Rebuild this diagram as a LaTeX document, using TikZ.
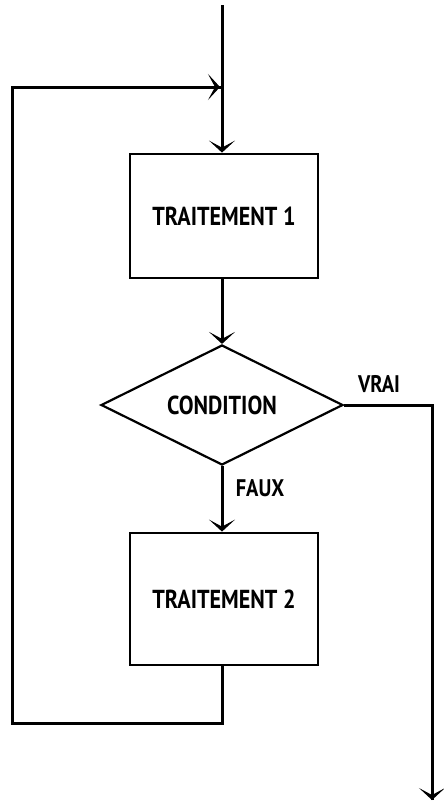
\documentclass[tikz,border=0pt]{standalone}
\usepackage{fontspec}
\usetikzlibrary{positioning, shapes.geometric, arrows.meta}
\newfontfamily\flowfont{PT Sans}[FakeStretch=0.85]
\tikzset{
	flowline/.style={line width=1.5pt},
	flowarrow/.style={flowline, -{Stealth[length=6pt, width=13pt, inset=3.5pt]}},
	procbox/.style={draw, line width=1.4pt, minimum width=94pt, minimum height=62pt, font=\flowfont\bfseries\fontsize{13}{15}\selectfont},
	testbox/.style={draw, diamond, aspect=2, line width=1.1pt, inner sep=0pt, minimum width=121pt, minimum height=60pt, font=\flowfont\bfseries\fontsize{13}{15}\selectfont},
	flowlabel/.style={font=\flowfont\bfseries\fontsize{12}{14}\selectfont}
}
\begin{document}
\begin{tikzpicture}[x=0.5pt, y=-0.5pt]
	\useasboundingbox (0,0) rectangle (444,804);
	% the nodes
	\node[procbox] (trait1) at (224,216) {TRAITEMENT 1};
	\node[testbox] (cond) at (222,405) {CONDITION};
	\node[procbox, minimum height=66pt] (trait2) at (224,599) {TRAITEMENT 2};
	\node[flowlabel] (vrai) at (379,384) {VRAI};
	\node[flowlabel] (faux) at (260,488) {FAUX};
	% free ends and corners
	\coordinate (start) at (222,5);
	\coordinate (loopjoin) at (222,87);
	\coordinate (loopdown) at (222,723);
	\coordinate (loopleft) at (12,723);
	\coordinate (loopup) at (12,87);
	\coordinate (vraicorner) at (432,405);
	\coordinate (vraiend) at (432,800);
	% connectors
	\draw[flowarrow] (start) -- (trait1.north -| start);
	\draw[flowarrow] (trait1.south -| cond.north) -- (cond.north);
	\draw[flowarrow] (cond.south) -- (trait2.north -| cond.south);
	\draw[flowline, line join=miter] (trait2.south -| loopdown) -- (loopdown) -- (loopleft) -- (loopup) -- (loopjoin);
	\draw[flowarrow, shorten >=1pt] (loopup) -- (loopjoin);
	\draw[flowline, line join=miter] (cond.east) -- (vraicorner) -- (vraiend);
	\draw[flowarrow] (vraicorner) -- (vraiend);
\end{tikzpicture}
\end{document}
